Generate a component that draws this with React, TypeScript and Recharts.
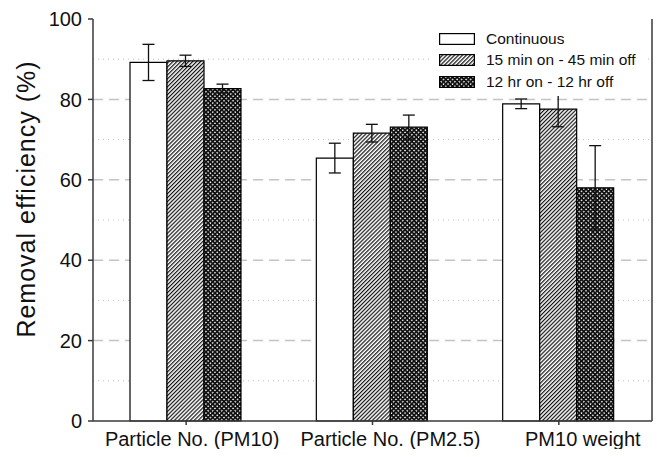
import {
  BarChart,
  Bar,
  XAxis,
  YAxis,
  CartesianGrid,
  ErrorBar,
  Label,
  Text
} from "recharts";

// categorías y valores
const categories = ["Particle No. (PM10)", "Particle No. (PM2.5)", "PM10 weight"];
const continuous = [89.2, 65.4, 78.9];
const continuousErr = [4.5, 3.7, 1.2];
const cycle15 = [89.6, 71.6, 77.6];
const cycle15Err = [1.4, 2.2, 4.4];
const cycle12 = [82.7, 73.1, 58.0];
const cycle12Err = [1.1, 3.0, 10.5];

const yTicks = [0, 20, 40, 60, 80, 100];
const majorGrid = [20, 40, 60, 80];
const minorGrid = [10, 30, 50, 70, 90];

const seriesNames = ["Continuous", "15 min on - 45 min off", "12 hr on - 12 hr off"];
const fills = ["#ffffff", "url(#hatch)", "url(#cross)"];

const data = categories.map((name, i) => ({
  name,
  cont: continuous[i],
  contErr: continuousErr[i],
  c15: cycle15[i],
  c15Err: cycle15Err[i],
  c12: cycle12[i],
  c12Err: cycle12Err[i]
}));

const font = "'Liberation Sans', Arial, sans-serif";
const axisColor = "#3a3a3a";

// en el original las etiquetas del eje X están corridas a la derecha
const labelShift = [6, 18, 24];

const CategoryTick = (props: any) => {
  const { x, y, payload, index, textAnchor, verticalAnchor } = props;
  return (
    <Text
      x={x + (labelShift[index] ?? 0)}
      y={y}
      textAnchor={textAnchor}
      verticalAnchor={verticalAnchor}
      fill="#111"
      fontSize={20}
      fontFamily={font}
    >
      {payload.value}
    </Text>
  );
};

// leyenda superpuesta, fondo blanco tapa la rejilla
const LegendBox = () => (
  <div
    style={{
      position: "absolute",
      top: 26,
      left: 433,
      width: 212,
      background: "#fff",
      padding: "2px 0 3px 6px",
      boxSizing: "border-box",
      fontFamily: font,
      fontSize: 15.5,
      color: "#111"
    }}
  >
    {seriesNames.map((n, i) => (
      <div key={n} style={{ display: "flex", alignItems: "center", height: 21.5 }}>
        <svg width={36} height={12} style={{ marginRight: 11 }}>
          <rect x={0.6} y={0.6} width={34.8} height={10.8} fill={fills[i]} stroke="#000" strokeWidth={1.2} />
        </svg>
        <span>{n}</span>
      </div>
    ))}
  </div>
);

export default function App() {
  return (
    <div style={{ margin: -8, position: "relative", width: 661, height: 457 }}>
      <BarChart
        width={661}
        height={457}
        data={data}
        margin={{ top: 19, right: 0, bottom: 0, left: 0 }}
        barCategoryGap={37}
        barGap={0}
      >
        <defs>
          <pattern id="hatch" width="2.8" height="2.8" patternUnits="userSpaceOnUse" patternTransform="rotate(45)">
            <rect width="2.8" height="2.8" fill="#fff" />
            <line x1="0.6" y1="0" x2="0.6" y2="2.8" stroke="#111" strokeWidth="1.2" />
          </pattern>
          <pattern id="cross" width="3.2" height="3.2" patternUnits="userSpaceOnUse" patternTransform="rotate(45)">
            <rect width="3.2" height="3.2" fill="#fff" />
            <line x1="0.9" y1="0" x2="0.9" y2="3.2" stroke="#111" strokeWidth="1.8" />
            <line x1="0" y1="0.9" x2="3.2" y2="0.9" stroke="#111" strokeWidth="1.8" />
          </pattern>
        </defs>
        <CartesianGrid
          vertical={false}
          horizontalValues={minorGrid}
          stroke="#bbb"
          strokeDasharray="1 4"
        />
        <CartesianGrid
          vertical={false}
          horizontalValues={majorGrid}
          stroke="#c4c4c4"
          strokeWidth={1.5}
          strokeDasharray="10 6"
        />
        <XAxis
          dataKey="name"
          stroke={axisColor}
          strokeWidth={1.5}
          height={36}
          interval={0}
          tickSize={4}
          tickMargin={7}
          tick={<CategoryTick />}
        />
        <XAxis xAxisId="top" orientation="top" height={0} stroke={axisColor} strokeWidth={1.5} tick={false} tickLine={false} />
        <YAxis
          domain={[0, 100]}
          ticks={yTicks}
          width={93}
          stroke={axisColor}
          strokeWidth={1.5}
          tickSize={5}
          tickMargin={6}
          tick={{ fill: "#111", fontSize: 20, fontFamily: font }}
        >
          <Label
            value="Removal efficiency (%)"
            angle={-90}
            position="insideLeft"
            dx={21}
            dy={-21}
            style={{ textAnchor: "middle", fill: "#111", fontSize: 25, letterSpacing: 1, fontFamily: font }}
          />
        </YAxis>
        <YAxis
          yAxisId="right"
          orientation="right"
          domain={[0, 100]}
          ticks={minorGrid}
          width={9}
          stroke={axisColor}
          strokeWidth={1.5}
          tickSize={4}
          tick={() => <g />}
        />
        <Bar dataKey="cont" fill={fills[0]} stroke="#000" strokeWidth={1.2} isAnimationActive={false}>
          <ErrorBar dataKey="contErr" width={6} stroke="#111" strokeWidth={1.3} />
        </Bar>
        <Bar dataKey="c15" fill={fills[1]} stroke="#000" strokeWidth={1.2} isAnimationActive={false}>
          <ErrorBar dataKey="c15Err" width={6} stroke="#111" strokeWidth={1.3} />
        </Bar>
        <Bar dataKey="c12" fill={fills[2]} stroke="#000" strokeWidth={1.2} isAnimationActive={false}>
          <ErrorBar dataKey="c12Err" width={6} stroke="#111" strokeWidth={1.3} />
        </Bar>
      </BarChart>
      <LegendBox />
    </div>
  );
}
